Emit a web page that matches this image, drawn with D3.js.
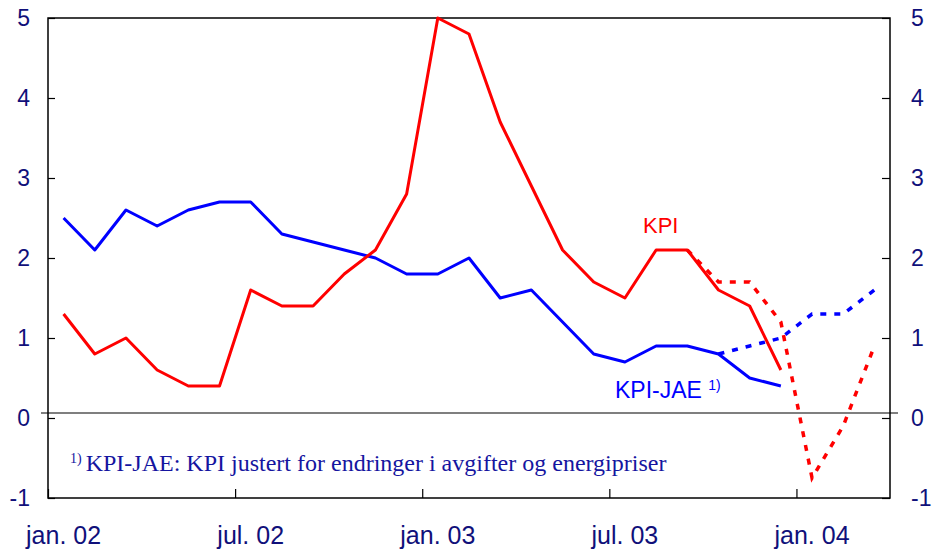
<!DOCTYPE html>
<html>
<head>
<meta charset="utf-8">
<script src="https://cdn.jsdelivr.net/npm/d3@7"></script>
<style>
  body { margin: 0; background: #fff; }
  svg { display: block; }
</style>
</head>
<body>
<script>
// months counted from jan. 02 (index 0), plotted at mid-month
const tickMonths = [0, 6, 12, 18, 24];
const tickLabels = ["jan. 02", "jul. 02", "jan. 03", "jul. 03", "jan. 04"];
const yTicks = [-1, 0, 1, 2, 3, 4, 5];

// actuals jan. 02 - des. 03
const kpi = [1.3, 0.8, 1.0, 0.6, 0.4, 0.4, 1.6, 1.4, 1.4, 1.8, 2.1, 2.8,
             5.0, 4.8, 3.7, 2.9, 2.1, 1.7, 1.5, 2.1, 2.1, 1.6, 1.4, 0.6];
const kpiJae = [2.5, 2.1, 2.6, 2.4, 2.6, 2.7, 2.7, 2.3, 2.2, 2.1, 2.0, 1.8,
                1.8, 2.0, 1.5, 1.6, 1.2, 0.8, 0.7, 0.9, 0.9, 0.8, 0.5, 0.4];

// projections (dashed)
const kpiFcStart = 20;   // sep. 03
const kpiFc = [2.1, 1.7, 1.7, 1.2, -0.75, -0.1, 0.9];
const jaeFcStart = 21;   // okt. 03
const jaeFc = [0.8, 0.9, 1.0, 1.3, 1.3, 1.6];

const W = 934, H = 551;
const m = { left: 48, right: 44, top: 18, bottom: 53 };
const navy = "#10107a";

const svg = d3.select("body").append("svg")
  .attr("width", W).attr("height", H);

const x = d3.scaleLinear().domain([0, 27]).range([m.left, W - m.right]);
const y = d3.scaleLinear().domain([-1, 5]).range([H - m.bottom, m.top]);

const toPts = (arr, start) => arr.map((v, i) => ({ m: start + i, v }));
const line = d3.line().x(d => x(d.m + 0.5)).y(d => y(d.v));

// frame
svg.append("rect")
  .attr("x", x(0)).attr("y", y(5))
  .attr("width", x(27) - x(0)).attr("height", y(-1) - y(5))
  .attr("fill", "none").attr("stroke", "#000").attr("stroke-width", 1.5);

// zero line (sits a little above the 0 tick, as in the original)
svg.append("line")
  .attr("x1", x(0) - 7).attr("x2", x(27) + 8)
  .attr("y1", y(0) - 5).attr("y2", y(0) - 5)
  .attr("stroke", "#000").attr("stroke-width", 1.2);

// axes
const fmt = d => String(d);   // plain hyphen for -1
const yl = svg.append("g").attr("transform", `translate(${x(0)},0)`)
  .call(d3.axisLeft(y).tickValues(yTicks).tickSize(-7).tickPadding(18).tickFormat(fmt));
const yr = svg.append("g").attr("transform", `translate(${x(27)},0)`)
  .call(d3.axisRight(y).tickValues(yTicks).tickSize(-8).tickPadding(21).tickFormat(fmt));
const xa = svg.append("g").attr("transform", `translate(0,${y(-1)})`)
  .call(d3.axisBottom(x).tickValues(tickMonths).tickSize(-9).tickFormat(() => ""));

[yl, yr, xa].forEach(g => {
  g.select(".domain").remove();
  g.selectAll(".tick line").attr("stroke", "#000").attr("stroke-width", 1.2);
});
[yl, yr].forEach(g => g.selectAll(".tick text")
  .attr("fill", navy).attr("font-family", "Liberation Sans, Arial, sans-serif")
  .attr("font-size", 23));

// month labels centred on the middle of the month
svg.append("g").selectAll("text")
  .data(tickMonths)
  .join("text")
  .attr("x", d => x(d + 0.5))
  .attr("y", 544)
  .attr("text-anchor", "middle")
  .attr("fill", navy)
  .attr("font-family", "Liberation Sans, Arial, sans-serif")
  .attr("font-size", 25)
  .text((d, i) => tickLabels[i]);

// series
svg.append("path").datum(toPts(kpiFc, kpiFcStart)).attr("d", line)
  .attr("fill", "none").attr("stroke", "#ff0000").attr("stroke-width", 3.5)
  .attr("stroke-dasharray", "6,8");
svg.append("path").datum(toPts(jaeFc, jaeFcStart)).attr("d", line)
  .attr("fill", "none").attr("stroke", "#0000ff").attr("stroke-width", 3.5)
  .attr("stroke-dasharray", "6,8");
svg.append("path").datum(toPts(kpiJae, 0)).attr("d", line)
  .attr("fill", "none").attr("stroke", "#0000ff").attr("stroke-width", 3)
  .attr("stroke-linejoin", "round");
svg.append("path").datum(toPts(kpi, 0)).attr("d", line)
  .attr("fill", "none").attr("stroke", "#ff0000").attr("stroke-width", 3)
  .attr("stroke-linejoin", "round");

// series labels
svg.append("text").attr("x", 643).attr("y", 233)
  .attr("fill", "#ff0000").attr("font-family", "Liberation Sans, Arial, sans-serif")
  .attr("font-size", 22).text("KPI");
const jl = svg.append("text").attr("x", 615).attr("y", 398)
  .attr("fill", "#0000ff").attr("font-family", "Liberation Sans, Arial, sans-serif")
  .attr("font-size", 23);
jl.append("tspan").text("KPI-JAE ");
jl.append("tspan").attr("font-size", 14).attr("dy", -8).text("1)");

// footnote
const fn = svg.append("text").attr("x", 70).attr("y", 471)
  .attr("fill", "#1515a0").attr("font-family", "Liberation Serif, Times New Roman, serif")
  .attr("font-size", 24);
fn.append("tspan").attr("font-size", 14).attr("dy", -8).text("1)");
fn.append("tspan").attr("dy", 8).attr("dx", 4).text("KPI-JAE: KPI justert for endringer i avgifter og energipriser");
</script>
</body>
</html>
